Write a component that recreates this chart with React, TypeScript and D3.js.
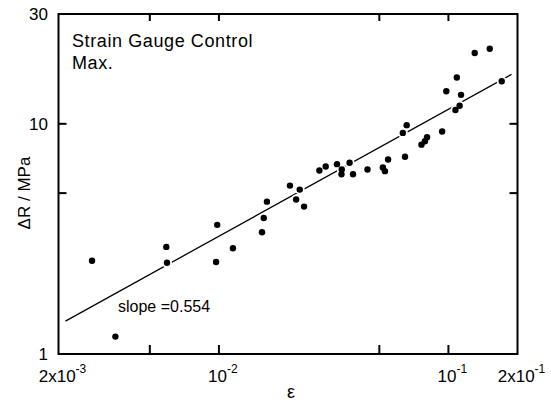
import React from "react";
import * as d3 from "d3";

const strain = [
  2.80e-3, 3.54e-3, 5.90e-3, 5.94e-3, 9.83e-3, 9.72e-3, 1.151e-2, 1.541e-2, 1.568e-2, 1.619e-2,
  2.04e-2, 2.17e-2, 2.25e-2, 2.35e-2, 2.74e-2, 2.92e-2, 3.27e-2, 3.43e-2, 3.42e-2, 3.71e-2,
  3.84e-2, 4.44e-2, 5.18e-2, 5.29e-2, 5.46e-2, 6.33e-2, 6.58e-2, 6.47e-2, 7.63e-2, 7.90e-2,
  8.07e-2, 9.39e-2, 9.79e-2, 1.088e-1, 1.073e-1, 1.119e-1, 1.135e-1, 1.302e-1, 1.514e-1, 1.707e-1,
];
const stressRange = [
  2.54, 1.19, 2.92, 2.49, 3.64, 2.51, 2.88, 3.38, 3.90, 4.59,
  5.39, 4.69, 5.18, 4.37, 6.27, 6.53, 6.68, 6.33, 6.04, 6.77,
  6.04, 6.33, 6.46, 6.23, 7.00, 9.13, 9.87, 7.19, 8.12, 8.40,
  8.74, 9.26, 13.86, 15.9, 11.48, 11.99, 13.36, 20.3, 21.2, 15.3,
];
const fitStrain = [2.145e-3, 1.883e-1];
const fitStress = [1.39, 16.4];

const xTickValues = [5e-3, 1e-2, 5e-2, 1e-1];
const yTickValues = [5, 10];
const xLabelValues = [2e-3, 1e-2, 1e-1, 2e-1];
const xLabelBase = ["2x10", "10", "10", "2x10"];
const xLabelExp = ["-3", "-2", "-1", "-1"];
const yLabelValues = [1, 10, 30];

const W = 551;
const H = 403;
const FONT = "'Liberation Sans', Arial, sans-serif";

export default function App() {
  const x = d3.scaleLog().domain([2e-3, 2e-1]).range([58.5, 517.5]);
  const y = d3.scaleLog().domain([1, 30]).range([354, 14]);
  const [x0, x1] = x.range();
  const [y0, y1] = y.range();
  const line = d3
    .line<number>()
    .x((_, i) => x(fitStrain[i]))
    .y((d) => y(d));
  const pts = strain.map((s, i) => ({ cx: x(s), cy: y(stressRange[i]) }));

  return (
    <svg
      width={W}
      height={H}
      style={{ position: "absolute", left: 0, top: 0, background: "#fff" }}
      fontFamily={FONT}
    >
      <rect x={0} y={0} width={W} height={H} fill="#fff" />
      <path d={line(fitStress) || ""} stroke="#000" strokeWidth={1.3} fill="none" />
      {pts.map((p, i) => (
        <circle key={"h" + i} cx={p.cx} cy={p.cy} r={5} fill="#fff" />
      ))}
      {pts.map((p, i) => (
        <circle key={"p" + i} cx={p.cx} cy={p.cy} r={3.2} fill="#000" />
      ))}
      <rect x={x0} y={y1} width={x1 - x0} height={y0 - y1} fill="none" stroke="#000" strokeWidth={2} />
      {xTickValues.map((v) => (
        <g key={"xt" + v}>
          <line x1={x(v)} x2={x(v)} y1={y0} y2={y0 - 9} stroke="#000" strokeWidth={2} />
          <line x1={x(v)} x2={x(v)} y1={y1} y2={y1 + 7} stroke="#000" strokeWidth={2} />
        </g>
      ))}
      {yTickValues.map((v) => (
        <g key={"yt" + v}>
          <line x1={x0} x2={x0 + 8} y1={y(v)} y2={y(v)} stroke="#000" strokeWidth={2} />
          <line x1={x1} x2={x1 - 8} y1={y(v)} y2={y(v)} stroke="#000" strokeWidth={2} />
        </g>
      ))}
      {xLabelValues.map((v, i) => (
        <text key={"xl" + i} x={x(v) + 4} y={382} textAnchor="middle" fontSize={17} fill="#000">
          {xLabelBase[i]}
          <tspan fontSize={12} dy={-9}>
            {xLabelExp[i]}
          </tspan>
        </text>
      ))}
      {yLabelValues.map((v) => (
        <text key={"yl" + v} x={48} y={y(v) + 6} textAnchor="end" fontSize={17} fill="#000">
          {v}
        </text>
      ))}
      <text x={291} y={398} textAnchor="middle" fontSize={18} fill="#000">
        ε
      </text>
      <text
        transform={`translate(30,193) rotate(-90)`}
        textAnchor="middle"
        fontSize={17}
        fill="#000"
      >
        ΔR / MPa
      </text>
      <text x={72} y={47} fontSize={18} letterSpacing={0.6} fill="#000">
        Strain Gauge Control
      </text>
      <text x={72} y={68.5} fontSize={18} letterSpacing={0.6} fill="#000">
        Max.
      </text>
      <text x={118} y={311.5} fontSize={16} fill="#000">
        slope =0.554
      </text>
    </svg>
  );
}
